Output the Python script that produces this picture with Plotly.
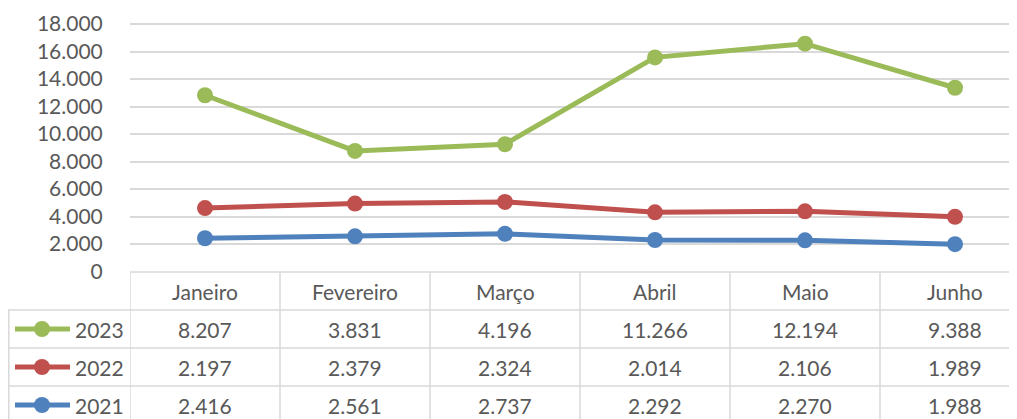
import plotly.graph_objects as go

months = ["Janeiro", "Fevereiro", "Março", "Abril", "Maio", "Junho"]
v2021 = [2416, 2561, 2737, 2292, 2270, 1988]
v2022 = [2197, 2379, 2324, 2014, 2106, 1989]
v2023 = [8207, 3831, 4196, 11266, 12194, 9388]
y_ticks = [0, 2000, 4000, 6000, 8000, 10000, 12000, 14000, 16000, 18000]

# page is 1017x419; the browser body has an 8px margin, so the figure starts at (8, 8)
OFF = 8
W, H = 1017 - OFF, 419 - OFF
def px(x): return (x - OFF) / W
def py(y): return 1 - (y - OFF) / H

GREEN, RED, BLUE = "#9BBB59", "#C0504D", "#4F81BD"
GRID = "#d9d9d9"
TXT = "#595959"
FONT = "Lato"

def fmt(v):
    return f"{v:,}".replace(",", ".")

s2021 = v2021
s2022 = [a + b for a, b in zip(v2021, v2022)]
s2023 = [a + b for a, b in zip(s2022, v2023)]

xi = list(range(len(months)))
fig = go.Figure()
for name, ys, col in [("2021", s2021, BLUE), ("2022", s2022, RED), ("2023", s2023, GREEN)]:
    fig.add_trace(go.Scatter(x=xi, y=ys, mode="lines+markers", name=name,
                             line=dict(color=col, width=5),
                             marker=dict(color=col, size=16), showlegend=False,
                             cliponaxis=False))

x_left = 130          # page px of plot-area left edge
col_w = 150           # page px per category
y0_px = 271.5         # page px of value 0
px_per_2000 = 27.5
y_top_val = (y0_px - OFF) / px_per_2000 * 2000
x_right_val = -0.5 + (1017 - x_left) / col_w

fig.update_layout(
    template="none",
    width=W, height=H, margin=dict(l=0, r=0, t=0, b=0, pad=0, autoexpand=False),
    paper_bgcolor="white", plot_bgcolor="white",
    separators=",.",
    font=dict(family=FONT, size=21, color=TXT),
    xaxis=dict(domain=[px(x_left), 1], range=[-0.5, x_right_val], showgrid=False,
               showticklabels=False, zeroline=False, showline=False, fixedrange=True,
               automargin=False, ticks=""),
    yaxis=dict(domain=[py(y0_px), 1], range=[0, y_top_val], tickvals=y_ticks,
               ticktext=[fmt(v) for v in y_ticks], showgrid=True, gridcolor=GRID,
               gridwidth=1.5, zeroline=False, showline=False, automargin=False,
               ticks="outside", ticklen=22, tickcolor="rgba(0,0,0,0)",
               tickfont=dict(family=FONT, size=21, color=TXT)),
)

shapes = []
row_lines = [310, 348, 386, 424]
shapes.append(dict(type="line", xref="paper", yref="paper", x0=px(x_left), x1=1,
                   y0=py(272), y1=py(272), line=dict(color=GRID, width=1.5)))
for yl in row_lines:
    shapes.append(dict(type="line", xref="paper", yref="paper", x0=px(8), x1=1,
                       y0=py(yl), y1=py(yl), line=dict(color=GRID, width=1.5)))
for i in range(len(months) + 1):
    shapes.append(dict(type="line", xref="x", yref="paper", x0=i - 0.5, x1=i - 0.5,
                       y0=py(272), y1=py(424), line=dict(color=GRID, width=1.5)))
shapes.append(dict(type="line", xref="paper", yref="paper", x0=px(8.8), x1=px(8.8),
                   y0=py(310), y1=py(424), line=dict(color=GRID, width=1.5)))

annotations = []
for i, m in enumerate(months):
    annotations.append(dict(x=i, y=py(291), xref="x", yref="paper", text=m,
                            showarrow=False, yanchor="middle",
                            font=dict(family=FONT, size=21, color=TXT)))

rows = [("2023", v2023, GREEN, 329), ("2022", v2022, RED, 367), ("2021", v2021, BLUE, 405)]
for name, vals, col, yc in rows:
    shapes.append(dict(type="line", xref="paper", yref="paper", x0=px(15), x1=px(70),
                       y0=py(yc), y1=py(yc), line=dict(color=col, width=5)))
    shapes.append(dict(type="circle", xref="paper", yref="paper", x0=px(42 - 8),
                       x1=px(42 + 8), y0=py(yc + 8), y1=py(yc - 8),
                       fillcolor=col, line=dict(color=col, width=0)))
    annotations.append(dict(x=px(73), y=py(yc), xref="paper", yref="paper", text=name,
                            xanchor="left", yanchor="middle", showarrow=False,
                            font=dict(family=FONT, size=21, color=TXT)))
    for i, v in enumerate(vals):
        annotations.append(dict(x=i, y=py(yc), xref="x", yref="paper", text=fmt(v),
                                showarrow=False, yanchor="middle",
                                font=dict(family=FONT, size=21, color=TXT)))

fig.update_layout(shapes=shapes, annotations=annotations)
fig.write_html("out.html")
